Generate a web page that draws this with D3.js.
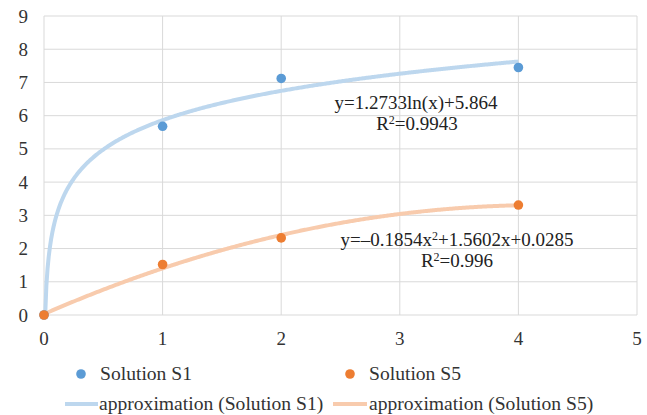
<!DOCTYPE html>
<html><head><meta charset="utf-8">
<script src="https://cdn.jsdelivr.net/npm/d3@7"></script>
<style>body{margin:0;background:#fff}</style>
</head><body>
<svg id="c" width="647" height="415"></svg>
<script>
const xTicks = [0,1,2,3,4,5];
const yTicks = [0,1,2,3,4,5,6,7,8,9];
const xs = [0,1,2,4];
const s1 = [0,5.68,7.12,7.45];
const s5 = [0,1.52,2.32,3.31];
const logFit = {a:1.2733, b:5.864};
const polyFit = {a:-0.1854, b:1.5602, c:0.0285};
const eqLabels = ["y=1.2733ln(x)+5.864","R²=0.9943","y=–0.1854x²+1.5602x+0.0285","R²=0.996"];
const legendNames = ["Solution S1","Solution S5","approximation (Solution S1)","approximation (Solution S5)"];

const svg = d3.select("#c");
const x = d3.scaleLinear().domain([0,5]).range([44,637]);
const y = d3.scaleLinear().domain([0,9]).range([315,16]);
const font = "Liberation Serif";
const fs = 19;
const grid = "#d9d9d9";

svg.append("g").selectAll("line").data(yTicks).join("line")
  .attr("x1",x(0)).attr("x2",x(5)).attr("y1",d=>y(d)).attr("y2",d=>y(d))
  .attr("stroke",grid).attr("stroke-width",1);
svg.append("g").selectAll("line").data(xTicks).join("line")
  .attr("x1",d=>x(d)).attr("x2",d=>x(d)).attr("y1",y(0)).attr("y2",y(9))
  .attr("stroke",grid).attr("stroke-width",1);

svg.append("g").selectAll("text").data(yTicks).join("text")
  .attr("x",28).attr("y",d=>y(d)+6.5).attr("text-anchor","end")
  .style("font-family",font).style("font-size",fs+"px").attr("fill","#333").text(d=>d);
svg.append("g").selectAll("text").data(xTicks).join("text")
  .attr("x",d=>x(d)).attr("y",345).attr("text-anchor","middle")
  .style("font-family",font).style("font-size",fs+"px").attr("fill","#333").text(d=>d);

const logPts = d3.range(0,401).map(i=>{const xv = Math.max(0.0101, i/100); return [xv, Math.max(0,logFit.a*Math.log(xv)+logFit.b)];});
const polyPts = d3.range(0,401).map(i=>{const xv=i/100; return [xv, polyFit.a*xv*xv+polyFit.b*xv+polyFit.c];});
const line = d3.line().x(d=>x(d[0])).y(d=>y(d[1]));
svg.append("path").attr("d",line(logPts)).attr("fill","none").attr("stroke","#BDD7EE").attr("stroke-width",4);
svg.append("path").attr("d",line(polyPts)).attr("fill","none").attr("stroke","#F8CBAD").attr("stroke-width",4);

svg.append("g").selectAll("circle").data(xs).join("circle")
  .attr("cx",d=>x(d)).attr("cy",(d,i)=>y(s1[i])).attr("r",4.8).attr("fill","#5B9BD5");
svg.append("g").selectAll("circle").data(xs).join("circle")
  .attr("cx",d=>x(d)).attr("cy",(d,i)=>y(s5[i])).attr("r",4.8).attr("fill","#ED7D31");

function eq(txt, cx, by){
  const t = svg.append("text").attr("x",cx).attr("y",by).attr("text-anchor","middle")
    .style("font-family",font).style("font-size",fs+"px").attr("fill","#222");
  const parts = txt.split("²");
  parts.forEach((p,i)=>{
    const s = t.append("tspan").text(p);
    if(i>0) s.attr("dy",6);
    if(i<parts.length-1) t.append("tspan").attr("dy",-6).style("font-size","12px").text("2");
  });
}
eq(eqLabels[0],416,109);
eq(eqLabels[1],417,130);
eq(eqLabels[2],457,246);
eq(eqLabels[3],457,267);

// legend
const lg = svg.append("g").style("font-family",font).style("font-size","19.6px").attr("fill","#333");
lg.append("circle").attr("cx",81).attr("cy",374).attr("r",4.8).attr("fill","#5B9BD5");
lg.append("text").attr("x",100).attr("y",380).text(legendNames[0]);
lg.append("circle").attr("cx",350).attr("cy",374).attr("r",4.8).attr("fill","#ED7D31");
lg.append("text").attr("x",369).attr("y",380).text(legendNames[1]);
lg.append("line").attr("x1",65).attr("x2",98).attr("y1",404).attr("y2",404).attr("stroke","#BDD7EE").attr("stroke-width",4);
lg.append("text").attr("x",99).attr("y",410).text(legendNames[2]);
lg.append("line").attr("x1",333).attr("x2",367).attr("y1",404).attr("y2",404).attr("stroke","#F8CBAD").attr("stroke-width",4);
lg.append("text").attr("x",369).attr("y",410).text(legendNames[3]);
</script>
</body></html>
